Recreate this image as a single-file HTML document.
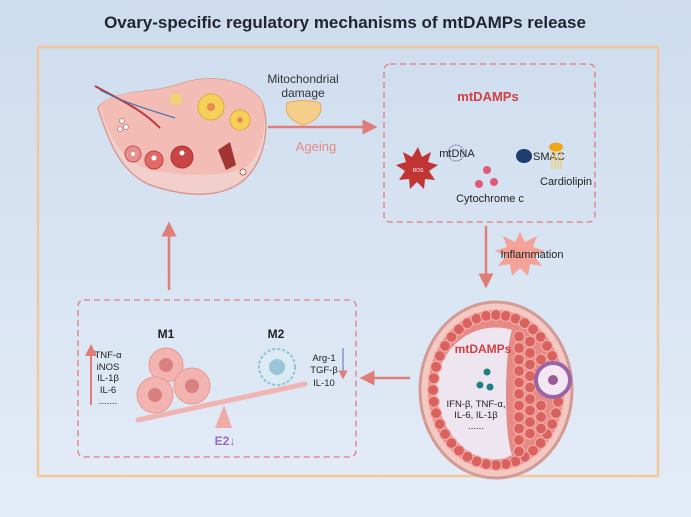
<!DOCTYPE html>
<html><head><meta charset="utf-8"><style>
html,body{margin:0;padding:0;width:691px;height:517px;overflow:hidden}
svg{display:block;font-family:"Liberation Sans",sans-serif}
</style></head><body>
<svg id="svg" width="691" height="517" viewBox="0 0 691 517">
<defs>
<linearGradient id="bg" x1="0" y1="0" x2="0" y2="1"><stop offset="0" stop-color="#cddcee"/><stop offset="1" stop-color="#e4ecf7"/></linearGradient>
<marker id="ah" markerWidth="6" markerHeight="6" refX="3" refY="3" orient="auto"><path d="M0,0 L6,3 L0,6 Z" fill="#e07d78"/></marker>
</defs>
<rect width="691" height="517" fill="url(#bg)"/>
<text x="345" y="28" text-anchor="middle" font-size="17" font-weight="bold" fill="#1f2430">Ovary-specific regulatory mechanisms of mtDAMPs release</text>
<rect x="38" y="47" width="620" height="429" fill="none" stroke="#f2c79c" stroke-width="2.5"/>

<g>
<path d="M98,108 C112,88 150,95 180,84 C215,72 250,82 262,102 C272,130 262,168 240,183 C215,200 180,195 150,185 C120,172 108,140 98,108 Z" fill="#f1d0cc" stroke="#d99a93" stroke-width="1.5"/>
<path d="M100,106 C112,88 150,95 180,84 C215,72 250,82 262,102 C268,125 262,155 245,168 C215,178 180,176 150,170 C120,160 108,135 100,106 Z" fill="#f3bcb5"/>
<path d="M95,86 C120,100 140,108 160,128" stroke="#b83a3a" stroke-width="2" fill="none"/>
<path d="M100,90 C125,103 150,110 175,118" stroke="#4a6fb0" stroke-width="1.2" fill="none"/>
<circle cx="211" cy="107" r="13" fill="#f6d15a" stroke="#e2a83a"/><circle cx="211" cy="107" r="4" fill="#e98a50"/>
<circle cx="240" cy="120" r="10" fill="#f6d15a" stroke="#e2a83a"/><circle cx="240" cy="120" r="3" fill="#e98a50"/>
<circle cx="176" cy="99" r="6" fill="#f3d27a"/>
<circle cx="133" cy="154" r="8" fill="#e9908c" stroke="#c8504e"/><circle cx="133" cy="154" r="2" fill="#fff"/>
<circle cx="154" cy="160" r="9" fill="#e06a68" stroke="#b84444"/><circle cx="154" cy="158" r="2.5" fill="#fff"/>
<circle cx="182" cy="157" r="11" fill="#c94444" stroke="#a33"/><circle cx="182" cy="153" r="2.5" fill="#fff"/>
<path d="M218,150 L230,142 L236,165 L226,170 Z" fill="#a33434"/>
<circle cx="243" cy="172" r="3" fill="#fff" stroke="#c55"/>
<circle cx="122" cy="121" r="2.5" fill="#fff" stroke="#c88"/><circle cx="126" cy="127" r="2.5" fill="#fff" stroke="#c88"/><circle cx="120" cy="129" r="2.5" fill="#fff" stroke="#c88"/>
</g>

<text x="303" y="83" text-anchor="middle" font-size="12" fill="#333">Mitochondrial</text>
<text x="303" y="97" text-anchor="middle" font-size="12" fill="#333">damage</text>
<path d="M287,103 Q303,98 320,103 Q325,118 303,125 Q283,118 287,103 Z" fill="#f6cf8a" stroke="#e8a860"/>
<line x1="268" y1="127" x2="370" y2="127" stroke="#e07d78" stroke-width="2.5" marker-end="url(#ah)"/>
<text x="316" y="151" text-anchor="middle" font-size="13" fill="#e58a86">Ageing</text>

<rect x="384" y="64" width="211" height="158" rx="6" fill="none" stroke="#e07d78" stroke-width="1.3" stroke-dasharray="6,4"/>
<text x="488" y="101" text-anchor="middle" font-size="13" font-weight="bold" fill="#d24040">mtDAMPs</text>
<circle cx="456" cy="153" r="8" fill="none" stroke="#8a68a8" stroke-dasharray="2,1"/>
<text x="457" y="157" text-anchor="middle" font-size="11" fill="#222">mtDNA</text>
<ellipse cx="524" cy="156" rx="8" ry="7" fill="#1f3d6e"/>
<text x="533" y="160" font-size="11" fill="#222">SMAC</text>
<path d="M418,147 l4,10 9,-5 -3,10 10,3 -9,6 6,9 -10,-1 -1,10 -7,-7 -7,7 -1,-10 -10,1 6,-9 -9,-6 10,-3 -3,-10 9,5 Z" fill="#c03434"/>
<text x="418" y="172" text-anchor="middle" font-size="5" fill="#fff">ROS</text>
<circle cx="487" cy="170" r="4" fill="#e05a78"/><circle cx="479" cy="184" r="4" fill="#e05a78"/><circle cx="494" cy="182" r="4" fill="#e05a78"/>
<text x="490" y="202" text-anchor="middle" font-size="11" fill="#222">Cytochrome c</text>
<ellipse cx="556" cy="147" rx="7" ry="4.5" fill="#f2a418"/>
<path d="M552,151 v18 M555,151 v18 M558,151 v18 M561,151 v18" stroke="#f0c84a" stroke-width="1"/>
<text x="566" y="185" text-anchor="middle" font-size="11" fill="#222">Cardiolipin</text>

<line x1="486" y1="226" x2="486" y2="281" stroke="#e07d78" stroke-width="2.5" marker-end="url(#ah)"/>
<path d="M520,232 l5,10 12,-6 -4,11 12,4 -11,5 8,10 -12,-2 -2,12 -8,-8 -8,8 -2,-12 -12,2 8,-10 -11,-5 12,-4 -4,-11 12,6 Z" fill="#f79a8e" opacity=".9"/>
<text x="532" y="258" text-anchor="middle" font-size="11" fill="#222">Inflammation</text>

<g id="foll">
<ellipse cx="496" cy="390" rx="76" ry="88" fill="#f5c9c3" stroke="#d39b95" stroke-width="3"/>
<ellipse cx="496" cy="390" rx="68" ry="80" fill="#e68a86"/>
<path d="M512,330 C505,350 503,430 512,455 C490,468 445,455 435,390 C440,340 480,320 512,330 Z" fill="#ede6f1"/>
</g>
<g id="cells"></g>
<g>
<circle cx="553" cy="380" r="17" fill="#f3e8f2" stroke="#9a65a8" stroke-width="4"/>
<circle cx="553" cy="380" r="5" fill="#9a5a96"/>
</g>
<text x="483" y="353" text-anchor="middle" font-size="12" font-weight="bold" fill="#d24040">mtDAMPs</text>
<circle cx="487" cy="372" r="3.5" fill="#1e8080"/><circle cx="480" cy="385" r="3.5" fill="#1e8080"/><circle cx="490" cy="387" r="3.5" fill="#1e8080"/>
<text x="476" y="407" text-anchor="middle" font-size="9.5" fill="#222">IFN-β, TNF-α,</text>
<text x="476" y="418" text-anchor="middle" font-size="9.5" fill="#222">IL-6, IL-1β</text>
<text x="476" y="429" text-anchor="middle" font-size="9.5" fill="#222">......</text>

<line x1="410" y1="378" x2="367" y2="378" stroke="#e07d78" stroke-width="2.5" marker-end="url(#ah)"/>

<rect x="78" y="300" width="278" height="157" rx="6" fill="none" stroke="#e07d78" stroke-width="1.3" stroke-dasharray="6,4"/>
<text x="166" y="338" text-anchor="middle" font-size="12" font-weight="bold" fill="#222">M1</text>
<text x="276" y="338" text-anchor="middle" font-size="12" font-weight="bold" fill="#222">M2</text>
<line x1="91" y1="405" x2="91" y2="350" stroke="#e07d78" stroke-width="2" marker-end="url(#ah)"/>
<g font-size="9.5" fill="#222" text-anchor="middle">
<text x="108" y="358">TNF-α</text><text x="108" y="370">iNOS</text><text x="108" y="381">IL-1β</text><text x="108" y="393">IL-6</text><text x="108" y="404">.......</text></g>
<g>
<circle cx="166" cy="365" r="17" fill="#f3b3b0" stroke="#e69a96"/><circle cx="166" cy="365" r="7" fill="#d98080"/>
<circle cx="155" cy="395" r="18" fill="#f3b3b0" stroke="#e69a96"/><circle cx="155" cy="395" r="7" fill="#d98080"/>
<circle cx="192" cy="386" r="18" fill="#f3b3b0" stroke="#e69a96"/><circle cx="192" cy="386" r="7" fill="#d98080"/>
</g>
<g>
<circle cx="277" cy="367" r="18" fill="#dcebf3" stroke="#8ec2d8" stroke-dasharray="3,2" stroke-width="2"/>
<circle cx="277" cy="367" r="8" fill="#9cc4d8"/>
</g>
<line x1="343" y1="348" x2="343" y2="375" stroke="#7d96d0" stroke-width="1.5" marker-end="url(#ah)"/>
<g font-size="9.5" fill="#222" text-anchor="middle">
<text x="324" y="361">Arg-1</text><text x="324" y="373">TGF-β</text><text x="324" y="386">IL-10</text></g>
<line x1="138" y1="420" x2="305" y2="384" stroke="#f0b4b2" stroke-width="5" stroke-linecap="round"/>
<path d="M224,405 L232,428 L215,428 Z" fill="#f0aaa8"/>
<text x="225" y="445" text-anchor="middle" font-size="12" font-weight="bold" fill="#9a6ac0">E2↓</text>

<line x1="169" y1="290" x2="169" y2="229" stroke="#e07d78" stroke-width="2.5" marker-end="url(#ah)"/>
</svg>
<script>
var g=document.getElementById('cells'),ns='http://www.w3.org/2000/svg';
function cell(x,y){var c=document.createElementNS(ns,'circle');c.setAttribute('cx',x);c.setAttribute('cy',y);c.setAttribute('r',5.5);c.setAttribute('fill','#d9625f');c.setAttribute('stroke','#f2aaa6');c.setAttribute('stroke-width','1.2');


g.appendChild(c);}
for(var i=0;i<40;i++){var a=i/40*Math.PI*2;cell(496+63*Math.cos(a),390+75*Math.sin(a));}
for(var r=0;r<4;r++){for(var j=0;j<12;j++){var yy=325+j*11.5+(r%2)*5,xx=519+r*11;var dx=(xx-496)/55,dy=(yy-390)/68;if(dx*dx+dy*dy<1&&Math.hypot(xx-553,yy-380)>20)cell(xx,yy);}}
</script>
</body></html>
